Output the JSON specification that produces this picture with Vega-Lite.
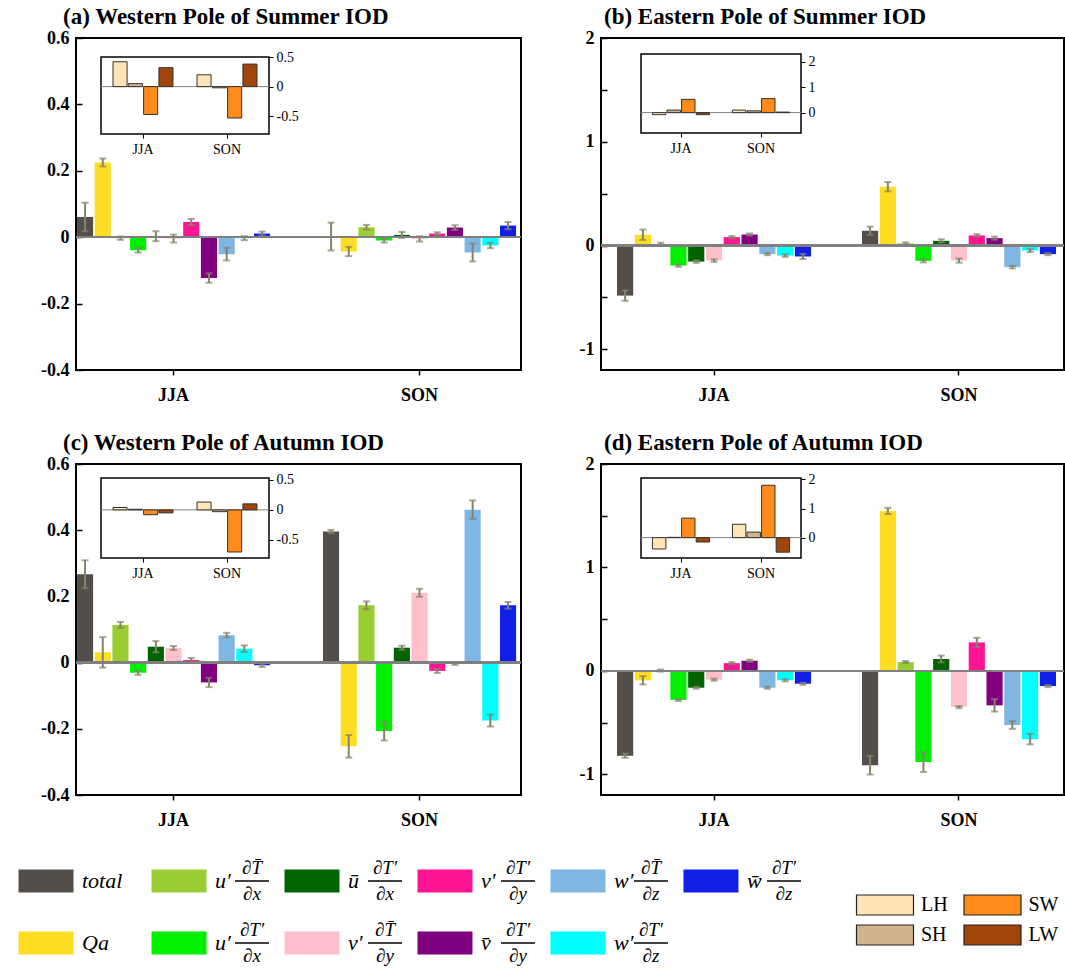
{
  "$schema": "https://vega.github.io/schema/vega-lite/v6.json",
  "background": "white",
  "padding": {"left": 18, "top": 5, "right": 0, "bottom": 0},
  "bounds": "flush",
  "align": "each",
  "columns": 2,
  "spacing": {"row": 94, "column": 80},
  "resolve": {"scale": {"color": "independent"}},
  "config": {
    "font": "Liberation Serif",
    "view": {"stroke": "black", "strokeWidth": 2},
    "title": {"fontSize": 23, "fontWeight": "bold", "color": "black", "font": "Liberation Serif"},
    "axis": {"labelFont": "Liberation Serif", "labelColor": "black", "tickColor": "black", "domainColor": "black", "grid": false, "title": null}
  },
  "datasets": {
    "main": [
      {"p":"a","s":"JJA","k":"total","v":0.061,"lo":0.018,"hi":0.104},
      {"p":"a","s":"JJA","k":"Qa","v":0.225,"lo":0.213,"hi":0.237},
      {"p":"a","s":"JJA","k":"u1","v":-0.003,"lo":-0.008,"hi":0.002},
      {"p":"a","s":"JJA","k":"u2","v":-0.039,"lo":-0.046,"hi":-0.032},
      {"p":"a","s":"JJA","k":"u3","v":0.003,"lo":-0.012,"hi":0.018},
      {"p":"a","s":"JJA","k":"v1","v":-0.004,"lo":-0.016,"hi":0.008},
      {"p":"a","s":"JJA","k":"v2","v":0.046,"lo":0.037,"hi":0.055},
      {"p":"a","s":"JJA","k":"v3","v":-0.123,"lo":-0.137,"hi":-0.109},
      {"p":"a","s":"JJA","k":"w1","v":-0.051,"lo":-0.070,"hi":-0.032},
      {"p":"a","s":"JJA","k":"w2","v":-0.003,"lo":-0.009,"hi":0.003},
      {"p":"a","s":"JJA","k":"w3","v":0.011,"lo":0.005,"hi":0.017},
      {"p":"a","s":"SON","k":"total","v":0.002,"lo":-0.040,"hi":0.044},
      {"p":"a","s":"SON","k":"Qa","v":-0.043,"lo":-0.057,"hi":-0.029},
      {"p":"a","s":"SON","k":"u1","v":0.030,"lo":0.023,"hi":0.037},
      {"p":"a","s":"SON","k":"u2","v":-0.010,"lo":-0.016,"hi":-0.004},
      {"p":"a","s":"SON","k":"u3","v":0.007,"lo":-0.002,"hi":0.016},
      {"p":"a","s":"SON","k":"v1","v":-0.005,"lo":-0.013,"hi":0.003},
      {"p":"a","s":"SON","k":"v2","v":0.011,"lo":0.007,"hi":0.015},
      {"p":"a","s":"SON","k":"v3","v":0.029,"lo":0.022,"hi":0.036},
      {"p":"a","s":"SON","k":"w1","v":-0.046,"lo":-0.073,"hi":-0.019},
      {"p":"a","s":"SON","k":"w2","v":-0.025,"lo":-0.033,"hi":-0.017},
      {"p":"a","s":"SON","k":"w3","v":0.035,"lo":0.024,"hi":0.046},
      {"p":"b","s":"JJA","k":"total","v":-0.483,"lo":-0.533,"hi":-0.433},
      {"p":"b","s":"JJA","k":"Qa","v":0.103,"lo":0.053,"hi":0.153},
      {"p":"b","s":"JJA","k":"u1","v":0.015,"lo":0.003,"hi":0.027},
      {"p":"b","s":"JJA","k":"u2","v":-0.193,"lo":-0.205,"hi":-0.181},
      {"p":"b","s":"JJA","k":"u3","v":-0.155,"lo":-0.167,"hi":-0.143},
      {"p":"b","s":"JJA","k":"v1","v":-0.145,"lo":-0.157,"hi":-0.133},
      {"p":"b","s":"JJA","k":"v2","v":0.081,"lo":0.071,"hi":0.091},
      {"p":"b","s":"JJA","k":"v3","v":0.106,"lo":0.096,"hi":0.116},
      {"p":"b","s":"JJA","k":"w1","v":-0.083,"lo":-0.093,"hi":-0.073},
      {"p":"b","s":"JJA","k":"w2","v":-0.097,"lo":-0.109,"hi":-0.085},
      {"p":"b","s":"JJA","k":"w3","v":-0.106,"lo":-0.131,"hi":-0.081},
      {"p":"b","s":"SON","k":"total","v":0.142,"lo":0.102,"hi":0.182},
      {"p":"b","s":"SON","k":"Qa","v":0.567,"lo":0.522,"hi":0.612},
      {"p":"b","s":"SON","k":"u1","v":0.020,"lo":0.010,"hi":0.030},
      {"p":"b","s":"SON","k":"u2","v":-0.148,"lo":-0.163,"hi":-0.133},
      {"p":"b","s":"SON","k":"u3","v":0.045,"lo":0.030,"hi":0.060},
      {"p":"b","s":"SON","k":"v1","v":-0.145,"lo":-0.165,"hi":-0.125},
      {"p":"b","s":"SON","k":"v2","v":0.097,"lo":0.085,"hi":0.109},
      {"p":"b","s":"SON","k":"v3","v":0.071,"lo":0.056,"hi":0.086},
      {"p":"b","s":"SON","k":"w1","v":-0.209,"lo":-0.221,"hi":-0.197},
      {"p":"b","s":"SON","k":"w2","v":-0.048,"lo":-0.063,"hi":-0.033},
      {"p":"b","s":"SON","k":"w3","v":-0.083,"lo":-0.093,"hi":-0.073},
      {"p":"c","s":"JJA","k":"total","v":0.267,"lo":0.225,"hi":0.309},
      {"p":"c","s":"JJA","k":"Qa","v":0.031,"lo":-0.015,"hi":0.077},
      {"p":"c","s":"JJA","k":"u1","v":0.114,"lo":0.105,"hi":0.123},
      {"p":"c","s":"JJA","k":"u2","v":-0.031,"lo":-0.037,"hi":-0.025},
      {"p":"c","s":"JJA","k":"u3","v":0.048,"lo":0.031,"hi":0.065},
      {"p":"c","s":"JJA","k":"v1","v":0.044,"lo":0.038,"hi":0.050},
      {"p":"c","s":"JJA","k":"v2","v":0.008,"lo":0.002,"hi":0.014},
      {"p":"c","s":"JJA","k":"v3","v":-0.060,"lo":-0.074,"hi":-0.046},
      {"p":"c","s":"JJA","k":"w1","v":0.083,"lo":0.076,"hi":0.090},
      {"p":"c","s":"JJA","k":"w2","v":0.042,"lo":0.032,"hi":0.052},
      {"p":"c","s":"JJA","k":"w3","v":-0.008,"lo":-0.013,"hi":-0.003},
      {"p":"c","s":"SON","k":"total","v":0.396,"lo":0.391,"hi":0.401},
      {"p":"c","s":"SON","k":"Qa","v":-0.253,"lo":-0.287,"hi":-0.219},
      {"p":"c","s":"SON","k":"u1","v":0.173,"lo":0.161,"hi":0.185},
      {"p":"c","s":"SON","k":"u2","v":-0.207,"lo":-0.235,"hi":-0.179},
      {"p":"c","s":"SON","k":"u3","v":0.045,"lo":0.039,"hi":0.051},
      {"p":"c","s":"SON","k":"v1","v":0.211,"lo":0.199,"hi":0.223},
      {"p":"c","s":"SON","k":"v2","v":-0.025,"lo":-0.031,"hi":-0.019},
      {"p":"c","s":"SON","k":"v3","v":-0.003,"lo":-0.007,"hi":0.001},
      {"p":"c","s":"SON","k":"w1","v":0.462,"lo":0.434,"hi":0.490},
      {"p":"c","s":"SON","k":"w2","v":-0.175,"lo":-0.193,"hi":-0.157},
      {"p":"c","s":"SON","k":"w3","v":0.173,"lo":0.163,"hi":0.183},
      {"p":"d","s":"JJA","k":"total","v":-0.820,"lo":-0.840,"hi":-0.800},
      {"p":"d","s":"JJA","k":"Qa","v":-0.091,"lo":-0.131,"hi":-0.051},
      {"p":"d","s":"JJA","k":"u1","v":0.003,"lo":-0.007,"hi":0.013},
      {"p":"d","s":"JJA","k":"u2","v":-0.280,"lo":-0.290,"hi":-0.270},
      {"p":"d","s":"JJA","k":"u3","v":-0.163,"lo":-0.173,"hi":-0.153},
      {"p":"d","s":"JJA","k":"v1","v":-0.085,"lo":-0.095,"hi":-0.075},
      {"p":"d","s":"JJA","k":"v2","v":0.075,"lo":0.065,"hi":0.085},
      {"p":"d","s":"JJA","k":"v3","v":0.098,"lo":0.088,"hi":0.108},
      {"p":"d","s":"JJA","k":"w1","v":-0.163,"lo":-0.173,"hi":-0.153},
      {"p":"d","s":"JJA","k":"w2","v":-0.091,"lo":-0.101,"hi":-0.081},
      {"p":"d","s":"JJA","k":"w3","v":-0.124,"lo":-0.134,"hi":-0.114},
      {"p":"d","s":"SON","k":"total","v":-0.912,"lo":-1.002,"hi":-0.822},
      {"p":"d","s":"SON","k":"Qa","v":1.546,"lo":1.516,"hi":1.576},
      {"p":"d","s":"SON","k":"u1","v":0.085,"lo":0.075,"hi":0.095},
      {"p":"d","s":"SON","k":"u2","v":-0.882,"lo":-0.977,"hi":-0.787},
      {"p":"d","s":"SON","k":"u3","v":0.115,"lo":0.082,"hi":0.148},
      {"p":"d","s":"SON","k":"v1","v":-0.350,"lo":-0.360,"hi":-0.340},
      {"p":"d","s":"SON","k":"v2","v":0.275,"lo":0.230,"hi":0.320},
      {"p":"d","s":"SON","k":"v3","v":-0.333,"lo":-0.393,"hi":-0.273},
      {"p":"d","s":"SON","k":"w1","v":-0.523,"lo":-0.560,"hi":-0.486},
      {"p":"d","s":"SON","k":"w2","v":-0.660,"lo":-0.710,"hi":-0.610},
      {"p":"d","s":"SON","k":"w3","v":-0.147,"lo":-0.157,"hi":-0.137}
    ],
    "inset": [
      {"p":"a","s":"JJA","f":"LH","v":0.42},{"p":"a","s":"JJA","f":"SH","v":0.05},{"p":"a","s":"JJA","f":"SW","v":-0.47},{"p":"a","s":"JJA","f":"LW","v":0.32},
      {"p":"a","s":"SON","f":"LH","v":0.2},{"p":"a","s":"SON","f":"SH","v":-0.02},{"p":"a","s":"SON","f":"SW","v":-0.53},{"p":"a","s":"SON","f":"LW","v":0.38},
      {"p":"b","s":"JJA","f":"LH","v":-0.08},{"p":"b","s":"JJA","f":"SH","v":0.1},{"p":"b","s":"JJA","f":"SW","v":0.52},{"p":"b","s":"JJA","f":"LW","v":-0.08},
      {"p":"b","s":"SON","f":"LH","v":0.1},{"p":"b","s":"SON","f":"SH","v":0.07},{"p":"b","s":"SON","f":"SW","v":0.55},{"p":"b","s":"SON","f":"LW","v":0.02},
      {"p":"c","s":"JJA","f":"LH","v":0.04},{"p":"c","s":"JJA","f":"SH","v":0.01},{"p":"c","s":"JJA","f":"SW","v":-0.08},{"p":"c","s":"JJA","f":"LW","v":-0.05},
      {"p":"c","s":"SON","f":"LH","v":0.13},{"p":"c","s":"SON","f":"SH","v":-0.03},{"p":"c","s":"SON","f":"SW","v":-0.7},{"p":"c","s":"SON","f":"LW","v":0.1},
      {"p":"d","s":"JJA","f":"LH","v":-0.39},{"p":"d","s":"JJA","f":"SH","v":0.01},{"p":"d","s":"JJA","f":"SW","v":0.67},{"p":"d","s":"JJA","f":"LW","v":-0.15},
      {"p":"d","s":"SON","f":"LH","v":0.46},{"p":"d","s":"SON","f":"SH","v":0.19},{"p":"d","s":"SON","f":"SW","v":1.8},{"p":"d","s":"SON","f":"LW","v":-0.5}
    ],
    "leg": [
      {"k":"total","c":0,"r":0,"lab":"total"},
      {"k":"Qa","c":0,"r":1,"lab":"Qa"},
      {"k":"u1","c":1,"r":0,"pre":"u′","num":"∂T̄","den":"∂x"},
      {"k":"u2","c":1,"r":1,"pre":"u′","num":"∂T′","den":"∂x"},
      {"k":"u3","c":2,"r":0,"pre":"ū","num":"∂T′","den":"∂x"},
      {"k":"v1","c":2,"r":1,"pre":"v′","num":"∂T̄","den":"∂y"},
      {"k":"v2","c":3,"r":0,"pre":"v′","num":"∂T′","den":"∂y"},
      {"k":"v3","c":3,"r":1,"pre":"v̄","num":"∂T′","den":"∂y"},
      {"k":"w1","c":4,"r":0,"pre":"w′","num":"∂T̄","den":"∂z"},
      {"k":"w2","c":4,"r":1,"pre":"w′","num":"∂T′","den":"∂z"},
      {"k":"w3","c":5,"r":0,"pre":"w̄","num":"∂T′","den":"∂z"}
    ],
    "leg2": [
      {"f":"LH","c":0,"r":0},{"f":"SH","c":0,"r":1},{"f":"SW","c":1,"r":0},{"f":"LW","c":1,"r":1}
    ]
  },
  "concat": [
    {
      "width": 445, "height": 332,
      "title": {"text": "(a) Western Pole of Summer IOD", "anchor": "start", "frame": "group", "dx": -13, "offset": 0},
      "layer": [
        {
          "data": {"name": "main"},
          "transform": [{"filter": "datum.p == 'a'"}],
          "layer": [
            {
              "encoding": {
                "x": {"field": "s", "type": "nominal", "scale": {"domain": ["JJA","SON"], "paddingInner": 0.215, "paddingOuter": 0.012, "align": 0.17},
                      "axis": {"orient": "bottom", "domain": false, "tickSize": 5, "tickWidth": 1.5, "labelFontSize": 18, "labelFontWeight": "bold", "labelPadding": 11, "labelAngle": 0}},
                "xOffset": {"field": "k", "type": "nominal", "scale": {"domain": ["total","Qa","u1","u2","u3","v1","v2","v3","w1","w2","w3"], "paddingInner": 0.09, "paddingOuter": 0}}
              },
              "layer": [
                {"mark": {"type": "bar"},
                 "encoding": {
                   "y": {"field": "v", "type": "quantitative", "scale": {"domain": [-0.4, 0.6], "nice": false},
                         "axis": {"orient": "left", "values": [-0.4,-0.2,0,0.2,0.4,0.6], "domain": false, "tickSize": -6, "tickWidth": 1.5, "labelFontSize": 18, "labelFontWeight": "bold", "labelPadding": 13,
                                  "labelExpr": "datum.value == 0 ? '0' : (datum.value < 0 ? '-' : '') + format(abs(datum.value), '.1f')"}},
                   "color": {"field": "k", "type": "nominal", "legend": null,
                             "scale": {"domain": ["total","Qa","u1","u2","u3","v1","v2","v3","w1","w2","w3"], "range": ["#534E49","#FFDD22","#9ACD32","#00F000","#006400","#FFC0CB","#FF1493","#800080","#7EB6E4","#00FFFF","#1020E8"]}}}},
                {"mark": {"type": "rule", "color": "#84846C", "strokeWidth": 2}, "encoding": {"y": {"field": "lo", "type": "quantitative"}, "y2": {"field": "hi"}}},
                {"mark": {"type": "tick", "color": "#84846C", "thickness": 2, "size": 7}, "encoding": {"y": {"field": "lo", "type": "quantitative"}}},
                {"mark": {"type": "tick", "color": "#84846C", "thickness": 2, "size": 7}, "encoding": {"y": {"field": "hi", "type": "quantitative"}}}
              ]
            },
            {"mark": {"type": "rule", "color": "#808080", "strokeWidth": 1.5}, "encoding": {"y": {"datum": 0, "type": "quantitative"}}}
          ]
        },
        {
          "data": {"values": [{}]},
          "encoding": {
            "x": {"datum": 0, "type": "quantitative", "scale": {"domain": [0, 1], "range": [25, 193], "nice": false}, "axis": null},
            "x2": {"datum": 1}
          },
          "layer": [
            {"mark": {"type": "rect", "fill": "white", "stroke": "black", "strokeWidth": 1.5},
             "encoding": {"y": {"datum": -0.8, "type": "quantitative", "scale": {"domain": [-0.8, 0.5], "range": [96, 19], "nice": false, "zero": false}, "axis": null}, "y2": {"datum": 0.5}}},
            {"mark": {"type": "rule", "color": "#808080", "strokeWidth": 1}, "encoding": {"y": {"datum": 0, "type": "quantitative"}}}
          ]
        },
        {
          "data": {"name": "inset"},
          "transform": [{"filter": "datum.p == 'a'"}],
          "mark": {"type": "bar", "stroke": "#333333", "strokeWidth": 1},
          "encoding": {
            "x": {"field": "s", "type": "nominal", "scale": {"domain": ["JJA","SON"], "range": [25, 193], "paddingInner": 0.286, "paddingOuter": 0.143},
                  "axis": {"orient": "bottom", "offset": -236, "domain": false, "tickSize": 4, "labelFontSize": 14, "labelPadding": 4, "labelAngle": 0}},
            "xOffset": {"field": "f", "type": "nominal", "scale": {"domain": ["LH","SH","SW","LW"], "paddingInner": 0.08, "paddingOuter": 0}},
            "y": {"field": "v", "type": "quantitative", "scale": {"domain": [-0.8, 0.5], "range": [96, 19], "nice": false, "zero": false},
                  "axis": {"orient": "right", "offset": -252, "values": [-0.5, 0, 0.5], "domain": false, "tickSize": 4, "labelFontSize": 14, "labelPadding": 3,
                           "labelExpr": "datum.value == 0 ? '0' : (datum.value < 0 ? '-' : '') + format(abs(datum.value), '.1f')"}},
            "color": {"field": "f", "type": "nominal", "legend": null, "scale": {"domain": ["LH","SH","SW","LW"], "range": ["#FFE4B5","#D2B48C","#FF8C1A","#A0460A"]}}
          }
        }
      ],
      "resolve": {"scale": {"x": "independent", "y": "independent", "xOffset": "independent", "color": "independent"}, "axis": {"x": "independent", "y": "independent"}}
    },
    {
      "width": 463, "height": 332,
      "title": {"text": "(b) Eastern Pole of Summer IOD", "anchor": "start", "frame": "group", "dx": 3, "offset": 0},
      "layer": [
        {
          "data": {"name": "main"},
          "transform": [{"filter": "datum.p == 'b'"}],
          "layer": [
            {
              "encoding": {
                "x": {"field": "s", "type": "nominal", "scale": {"domain": ["JJA","SON"], "paddingInner": 0.208, "paddingOuter": 0.049, "align": 0.667},
                      "axis": {"orient": "bottom", "domain": false, "tickSize": 5, "tickWidth": 1.5, "labelFontSize": 18, "labelFontWeight": "bold", "labelPadding": 11, "labelAngle": 0}},
                "xOffset": {"field": "k", "type": "nominal", "scale": {"domain": ["total","Qa","u1","u2","u3","v1","v2","v3","w1","w2","w3"], "paddingInner": 0.09, "paddingOuter": 0}}
              },
              "layer": [
                {"mark": {"type": "bar"},
                 "encoding": {
                   "y": {"field": "v", "type": "quantitative", "scale": {"domain": [-1.2, 2], "nice": false},
                         "axis": {"orient": "left", "values": [-1,-0.5,0,0.5,1,1.5,2], "domain": false, "tickSize": -6, "tickWidth": 1.5, "labelFontSize": 18, "labelFontWeight": "bold", "labelPadding": 13,
                                  "labelExpr": "datum.value % 1 == 0 ? (datum.value < 0 ? '-' : '') + format(abs(datum.value), 'd') : ''"}},
                   "color": {"field": "k", "type": "nominal", "legend": null,
                             "scale": {"domain": ["total","Qa","u1","u2","u3","v1","v2","v3","w1","w2","w3"], "range": ["#534E49","#FFDD22","#9ACD32","#00F000","#006400","#FFC0CB","#FF1493","#800080","#7EB6E4","#00FFFF","#1020E8"]}}}},
                {"mark": {"type": "rule", "color": "#84846C", "strokeWidth": 2}, "encoding": {"y": {"field": "lo", "type": "quantitative"}, "y2": {"field": "hi"}}},
                {"mark": {"type": "tick", "color": "#84846C", "thickness": 2, "size": 7}, "encoding": {"y": {"field": "lo", "type": "quantitative"}}},
                {"mark": {"type": "tick", "color": "#84846C", "thickness": 2, "size": 7}, "encoding": {"y": {"field": "hi", "type": "quantitative"}}}
              ]
            },
            {"mark": {"type": "rule", "color": "#808080", "strokeWidth": 1.5}, "encoding": {"y": {"datum": 0, "type": "quantitative"}}}
          ]
        },
        {
          "data": {"values": [{}]},
          "encoding": {
            "x": {"datum": 0, "type": "quantitative", "scale": {"domain": [0, 1], "range": [40, 200], "nice": false}, "axis": null},
            "x2": {"datum": 1}
          },
          "layer": [
            {"mark": {"type": "rect", "fill": "white", "stroke": "black", "strokeWidth": 1.5},
             "encoding": {"y": {"datum": -0.8, "type": "quantitative", "scale": {"domain": [-0.8, 2.3], "range": [95, 16], "nice": false, "zero": false}, "axis": null}, "y2": {"datum": 2.3}}},
            {"mark": {"type": "rule", "color": "#808080", "strokeWidth": 1}, "encoding": {"y": {"datum": 0, "type": "quantitative"}}}
          ]
        },
        {
          "data": {"name": "inset"},
          "transform": [{"filter": "datum.p == 'b'"}],
          "mark": {"type": "bar", "stroke": "#333333", "strokeWidth": 1},
          "encoding": {
            "x": {"field": "s", "type": "nominal", "scale": {"domain": ["JJA","SON"], "range": [40, 200], "paddingInner": 0.286, "paddingOuter": 0.143},
                  "axis": {"orient": "bottom", "offset": -237, "domain": false, "tickSize": 4, "labelFontSize": 14, "labelPadding": 4, "labelAngle": 0}},
            "xOffset": {"field": "f", "type": "nominal", "scale": {"domain": ["LH","SH","SW","LW"], "paddingInner": 0.08, "paddingOuter": 0}},
            "y": {"field": "v", "type": "quantitative", "scale": {"domain": [-0.8, 2.3], "range": [95, 16], "nice": false, "zero": false},
                  "axis": {"orient": "right", "offset": -263, "values": [0, 1, 2], "domain": false, "tickSize": 4, "labelFontSize": 14, "labelPadding": 3}},
            "color": {"field": "f", "type": "nominal", "legend": null, "scale": {"domain": ["LH","SH","SW","LW"], "range": ["#FFE4B5","#D2B48C","#FF8C1A","#A0460A"]}}
          }
        }
      ],
      "resolve": {"scale": {"x": "independent", "y": "independent", "xOffset": "independent", "color": "independent"}, "axis": {"x": "independent", "y": "independent"}}
    },
    {
      "width": 445, "height": 331,
      "title": {"text": "(c) Western Pole of Autumn IOD", "anchor": "start", "frame": "group", "dx": -13, "offset": 0},
      "layer": [
        {
          "data": {"name": "main"},
          "transform": [{"filter": "datum.p == 'c'"}],
          "layer": [
            {
              "encoding": {
                "x": {"field": "s", "type": "nominal", "scale": {"domain": ["JJA","SON"], "paddingInner": 0.215, "paddingOuter": 0.012, "align": 0.17},
                      "axis": {"orient": "bottom", "domain": false, "tickSize": 5, "tickWidth": 1.5, "labelFontSize": 18, "labelFontWeight": "bold", "labelPadding": 11, "labelAngle": 0}},
                "xOffset": {"field": "k", "type": "nominal", "scale": {"domain": ["total","Qa","u1","u2","u3","v1","v2","v3","w1","w2","w3"], "paddingInner": 0.09, "paddingOuter": 0}}
              },
              "layer": [
                {"mark": {"type": "bar"},
                 "encoding": {
                   "y": {"field": "v", "type": "quantitative", "scale": {"domain": [-0.4, 0.6], "nice": false},
                         "axis": {"orient": "left", "values": [-0.4,-0.2,0,0.2,0.4,0.6], "domain": false, "tickSize": -6, "tickWidth": 1.5, "labelFontSize": 18, "labelFontWeight": "bold", "labelPadding": 13,
                                  "labelExpr": "datum.value == 0 ? '0' : (datum.value < 0 ? '-' : '') + format(abs(datum.value), '.1f')"}},
                   "color": {"field": "k", "type": "nominal", "legend": null,
                             "scale": {"domain": ["total","Qa","u1","u2","u3","v1","v2","v3","w1","w2","w3"], "range": ["#534E49","#FFDD22","#9ACD32","#00F000","#006400","#FFC0CB","#FF1493","#800080","#7EB6E4","#00FFFF","#1020E8"]}}}},
                {"mark": {"type": "rule", "color": "#84846C", "strokeWidth": 2}, "encoding": {"y": {"field": "lo", "type": "quantitative"}, "y2": {"field": "hi"}}},
                {"mark": {"type": "tick", "color": "#84846C", "thickness": 2, "size": 7}, "encoding": {"y": {"field": "lo", "type": "quantitative"}}},
                {"mark": {"type": "tick", "color": "#84846C", "thickness": 2, "size": 7}, "encoding": {"y": {"field": "hi", "type": "quantitative"}}}
              ]
            },
            {"mark": {"type": "rule", "color": "#808080", "strokeWidth": 1.5}, "encoding": {"y": {"datum": 0, "type": "quantitative"}}}
          ]
        },
        {
          "data": {"values": [{}]},
          "encoding": {
            "x": {"datum": 0, "type": "quantitative", "scale": {"domain": [0, 1], "range": [25, 193], "nice": false}, "axis": null},
            "x2": {"datum": 1}
          },
          "layer": [
            {"mark": {"type": "rect", "fill": "white", "stroke": "black", "strokeWidth": 1.5},
             "encoding": {"y": {"datum": -0.8, "type": "quantitative", "scale": {"domain": [-0.8, 0.53], "range": [94, 14], "nice": false, "zero": false}, "axis": null}, "y2": {"datum": 0.53}}},
            {"mark": {"type": "rule", "color": "#808080", "strokeWidth": 1}, "encoding": {"y": {"datum": 0, "type": "quantitative"}}}
          ]
        },
        {
          "data": {"name": "inset"},
          "transform": [{"filter": "datum.p == 'c'"}],
          "mark": {"type": "bar", "stroke": "#333333", "strokeWidth": 1},
          "encoding": {
            "x": {"field": "s", "type": "nominal", "scale": {"domain": ["JJA","SON"], "range": [25, 193], "paddingInner": 0.286, "paddingOuter": 0.143},
                  "axis": {"orient": "bottom", "offset": -237, "domain": false, "tickSize": 4, "labelFontSize": 14, "labelPadding": 4, "labelAngle": 0}},
            "xOffset": {"field": "f", "type": "nominal", "scale": {"domain": ["LH","SH","SW","LW"], "paddingInner": 0.08, "paddingOuter": 0}},
            "y": {"field": "v", "type": "quantitative", "scale": {"domain": [-0.8, 0.53], "range": [94, 14], "nice": false, "zero": false},
                  "axis": {"orient": "right", "offset": -252, "values": [-0.5, 0, 0.5], "domain": false, "tickSize": 4, "labelFontSize": 14, "labelPadding": 3,
                           "labelExpr": "datum.value == 0 ? '0' : (datum.value < 0 ? '-' : '') + format(abs(datum.value), '.1f')"}},
            "color": {"field": "f", "type": "nominal", "legend": null, "scale": {"domain": ["LH","SH","SW","LW"], "range": ["#FFE4B5","#D2B48C","#FF8C1A","#A0460A"]}}
          }
        }
      ],
      "resolve": {"scale": {"x": "independent", "y": "independent", "xOffset": "independent", "color": "independent"}, "axis": {"x": "independent", "y": "independent"}}
    },
    {
      "width": 463, "height": 331,
      "title": {"text": "(d) Eastern Pole of Autumn IOD", "anchor": "start", "frame": "group", "dx": 3, "offset": 0},
      "layer": [
        {
          "data": {"name": "main"},
          "transform": [{"filter": "datum.p == 'd'"}],
          "layer": [
            {
              "encoding": {
                "x": {"field": "s", "type": "nominal", "scale": {"domain": ["JJA","SON"], "paddingInner": 0.208, "paddingOuter": 0.049, "align": 0.667},
                      "axis": {"orient": "bottom", "domain": false, "tickSize": 5, "tickWidth": 1.5, "labelFontSize": 18, "labelFontWeight": "bold", "labelPadding": 11, "labelAngle": 0}},
                "xOffset": {"field": "k", "type": "nominal", "scale": {"domain": ["total","Qa","u1","u2","u3","v1","v2","v3","w1","w2","w3"], "paddingInner": 0.09, "paddingOuter": 0}}
              },
              "layer": [
                {"mark": {"type": "bar"},
                 "encoding": {
                   "y": {"field": "v", "type": "quantitative", "scale": {"domain": [-1.2, 2], "nice": false},
                         "axis": {"orient": "left", "values": [-1,-0.5,0,0.5,1,1.5,2], "domain": false, "tickSize": -6, "tickWidth": 1.5, "labelFontSize": 18, "labelFontWeight": "bold", "labelPadding": 13,
                                  "labelExpr": "datum.value % 1 == 0 ? (datum.value < 0 ? '-' : '') + format(abs(datum.value), 'd') : ''"}},
                   "color": {"field": "k", "type": "nominal", "legend": null,
                             "scale": {"domain": ["total","Qa","u1","u2","u3","v1","v2","v3","w1","w2","w3"], "range": ["#534E49","#FFDD22","#9ACD32","#00F000","#006400","#FFC0CB","#FF1493","#800080","#7EB6E4","#00FFFF","#1020E8"]}}}},
                {"mark": {"type": "rule", "color": "#84846C", "strokeWidth": 2}, "encoding": {"y": {"field": "lo", "type": "quantitative"}, "y2": {"field": "hi"}}},
                {"mark": {"type": "tick", "color": "#84846C", "thickness": 2, "size": 7}, "encoding": {"y": {"field": "lo", "type": "quantitative"}}},
                {"mark": {"type": "tick", "color": "#84846C", "thickness": 2, "size": 7}, "encoding": {"y": {"field": "hi", "type": "quantitative"}}}
              ]
            },
            {"mark": {"type": "rule", "color": "#808080", "strokeWidth": 1.5}, "encoding": {"y": {"datum": 0, "type": "quantitative"}}}
          ]
        },
        {
          "data": {"values": [{}]},
          "encoding": {
            "x": {"datum": 0, "type": "quantitative", "scale": {"domain": [0, 1], "range": [40, 200], "nice": false}, "axis": null},
            "x2": {"datum": 1}
          },
          "layer": [
            {"mark": {"type": "rect", "fill": "white", "stroke": "black", "strokeWidth": 1.5},
             "encoding": {"y": {"datum": -0.7, "type": "quantitative", "scale": {"domain": [-0.7, 2.05], "range": [94, 14], "nice": false, "zero": false}, "axis": null}, "y2": {"datum": 2.05}}},
            {"mark": {"type": "rule", "color": "#808080", "strokeWidth": 1}, "encoding": {"y": {"datum": 0, "type": "quantitative"}}}
          ]
        },
        {
          "data": {"name": "inset"},
          "transform": [{"filter": "datum.p == 'd'"}],
          "mark": {"type": "bar", "stroke": "#333333", "strokeWidth": 1},
          "encoding": {
            "x": {"field": "s", "type": "nominal", "scale": {"domain": ["JJA","SON"], "range": [40, 200], "paddingInner": 0.286, "paddingOuter": 0.143},
                  "axis": {"orient": "bottom", "offset": -237, "domain": false, "tickSize": 4, "labelFontSize": 14, "labelPadding": 4, "labelAngle": 0}},
            "xOffset": {"field": "f", "type": "nominal", "scale": {"domain": ["LH","SH","SW","LW"], "paddingInner": 0.08, "paddingOuter": 0}},
            "y": {"field": "v", "type": "quantitative", "scale": {"domain": [-0.7, 2.05], "range": [94, 14], "nice": false, "zero": false},
                  "axis": {"orient": "right", "offset": -263, "values": [0, 1, 2], "domain": false, "tickSize": 4, "labelFontSize": 14, "labelPadding": 3}},
            "color": {"field": "f", "type": "nominal", "legend": null, "scale": {"domain": ["LH","SH","SW","LW"], "range": ["#FFE4B5","#D2B48C","#FF8C1A","#A0460A"]}}
          }
        }
      ],
      "resolve": {"scale": {"x": "independent", "y": "independent", "xOffset": "independent", "color": "independent"}, "axis": {"x": "independent", "y": "independent"}}
    },
    {
      "width": 445, "height": 60,
      "view": {"stroke": null},
      "data": {"name": "leg"},
      "encoding": {
        "x": {"field": "c", "type": "quantitative", "scale": {"domain": [0, 3.346], "nice": false, "zero": false}, "axis": null},
        "y": {"field": "r", "type": "quantitative", "scale": {"domain": [0, 1], "range": [-8, 54], "nice": false, "zero": false}, "axis": null}
      },
      "layer": [
        {"mark": {"type": "rect", "width": 55, "height": 23, "xOffset": -30},
         "encoding": {"color": {"field": "k", "type": "nominal", "legend": null,
           "scale": {"domain": ["total","Qa","u1","u2","u3","v1","v2","v3","w1","w2","w3"], "range": ["#534E49","#FFDD22","#9ACD32","#00F000","#006400","#FFC0CB","#FF1493","#800080","#7EB6E4","#00FFFF","#1020E8"]}}}},
        {"transform": [{"filter": "isValid(datum.lab)"}], "mark": {"type": "text", "align": "left", "baseline": "middle", "dx": 6, "fontSize": 22, "fontStyle": "italic", "color": "black"}, "encoding": {"text": {"field": "lab"}}},
        {"transform": [{"filter": "isValid(datum.pre)"}], "mark": {"type": "text", "align": "left", "baseline": "middle", "dx": 6, "fontSize": 22, "fontStyle": "italic", "color": "black"}, "encoding": {"text": {"field": "pre"}}},
        {"transform": [{"filter": "isValid(datum.num)"}], "mark": {"type": "text", "align": "center", "baseline": "middle", "dx": 43, "dy": -13, "fontSize": 19, "fontStyle": "italic", "color": "black"}, "encoding": {"text": {"field": "num"}}},
        {"transform": [{"filter": "isValid(datum.den)"}], "mark": {"type": "text", "align": "center", "baseline": "middle", "dx": 43, "dy": 13, "fontSize": 19, "fontStyle": "italic", "color": "black"}, "encoding": {"text": {"field": "den"}}},
        {"transform": [{"filter": "isValid(datum.num)"}], "mark": {"type": "rect", "width": 34, "height": 1.5, "xOffset": 43, "color": "black"}}
      ]
    },
    {
      "width": 463, "height": 60,
      "view": {"stroke": null},
      "data": {"name": "leg2"},
      "encoding": {
        "x": {"field": "c", "type": "quantitative", "scale": {"domain": [0, 1], "range": [284, 391.5], "nice": false, "zero": false}, "axis": null},
        "y": {"field": "r", "type": "quantitative", "scale": {"domain": [0, 1], "range": [16, 46], "nice": false, "zero": false}, "axis": null}
      },
      "layer": [
        {"mark": {"type": "rect", "width": 57, "height": 20, "stroke": "#222222", "strokeWidth": 1.2},
         "encoding": {"color": {"field": "f", "type": "nominal", "legend": null, "scale": {"domain": ["LH","SH","SW","LW"], "range": ["#FFE4B5","#D2B48C","#FF8C1A","#A0460A"]}}}},
        {"mark": {"type": "text", "align": "left", "baseline": "middle", "dx": 36, "fontSize": 20, "color": "black"}, "encoding": {"text": {"field": "f"}}}
      ]
    }
  ]
}
